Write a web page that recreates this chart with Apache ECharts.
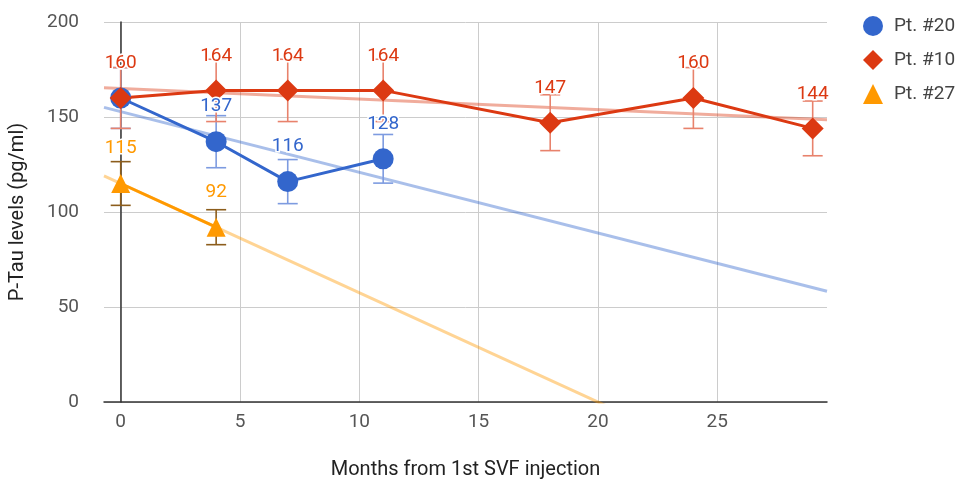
<!DOCTYPE html>
<html>
<head>
<meta charset="utf-8">
<script src="https://cdn.jsdelivr.net/npm/echarts@6/dist/echarts.min.js"></script>
<style>html,body{margin:0;padding:0;background:#fff}#c{width:973px;height:486px}</style>
</head>
<body>
<div id="c"></div>
<script>
// ---- data ----
const xTicks = [0, 5, 10, 15, 20, 25];
const yTicks = [0, 50, 100, 150, 200];

const months20 = [0, 4, 7, 11];
const pt20 = [160, 137, 116, 128];
const err20 = [16, 13.7, 11.6, 12.8];

const months10 = [0, 4, 7, 11, 18, 24, 29];
const pt10 = [160, 164, 164, 164, 147, 160, 144];
const err10 = [16, 16.4, 16.4, 16.4, 14.7, 16, 14.4];

const months27 = [0, 4];
const pt27 = [115, 92];
const err27 = [11.5, 9.2];

const seriesNames = ['Pt. #20', 'Pt. #10', 'Pt. #27'];

// ---- helpers ----
const X_MIN = -0.7, X_MAX = 29.6;
const FONT = 'Roboto';

function pairs(xs, ys) { return xs.map((x, i) => [x, ys[i]]); }
function errData(xs, ys, es) { return xs.map((x, i) => [x, ys[i] - es[i], ys[i] + es[i]]); }
function trend(xs, ys) {
  const n = xs.length;
  const mx = xs.reduce((a, b) => a + b, 0) / n;
  const my = ys.reduce((a, b) => a + b, 0) / n;
  let sxx = 0, sxy = 0;
  for (let i = 0; i < n; i++) { sxx += (xs[i] - mx) ** 2; sxy += (xs[i] - mx) * (ys[i] - my); }
  const b = sxy / sxx, a = my - b * mx;
  return [[X_MIN, a + b * X_MIN], [X_MAX, a + b * X_MAX]];
}
function errRender(color) {
  return function (params, api) {
    const x = api.value(0);
    const lo = api.coord([x, api.value(1)]);
    const hi = api.coord([x, api.value(2)]);
    const w = 10;
    const st = { stroke: color, lineWidth: 1.6 };
    return {
      type: 'group', children: [
        { type: 'line', shape: { x1: lo[0], y1: lo[1], x2: hi[0], y2: hi[1] }, style: st },
        { type: 'line', shape: { x1: lo[0] - w, y1: lo[1], x2: lo[0] + w, y2: lo[1] }, style: st },
        { type: 'line', shape: { x1: hi[0] - w, y1: hi[1], x2: hi[0] + w, y2: hi[1] }, style: st }
      ]
    };
  };
}

const C20 = '#3366cc', C10 = '#dc3912', C27 = '#ff9900';

function mainSeries(name, xs, ys, color, symbol, size, dist) {
  return {
    name: name, type: 'line', data: pairs(xs, ys), z: 5,
    symbol: symbol, symbolSize: size,
    itemStyle: { color: color },
    lineStyle: { color: color, width: 3 },
    label: {
      show: true, position: 'top', distance: dist,
      color: color, fontFamily: FONT, fontSize: 19,
      textBorderColor: '#fff', textBorderWidth: 3,
      formatter: p => String(p.value[1])
    }
  };
}
function trendSeries(name, xs, ys, color) {
  return {
    name: name, type: 'line', data: trend(xs, ys), z: 1, silent: true,
    symbol: 'none', lineStyle: { color: color, width: 3, opacity: 0.42 }
  };
}
function errSeries(name, xs, ys, es, color) {
  return {
    name: name, type: 'custom', z: 3, silent: true,
    renderItem: errRender(color), data: errData(xs, ys, es),
    encode: { x: 0, y: [1, 2] }
  };
}

const chart = echarts.init(document.getElementById('c'), null, { renderer: 'canvas' });
chart.setOption({
  backgroundColor: '#fff',
  animation: false,
  textStyle: { fontFamily: FONT },
  grid: { left: 104, right: 146, top: 22, bottom: 84, containLabel: false, outerBoundsMode: 'none' },
  legend: {
    orient: 'vertical', left: 858, top: 11,
    itemWidth: 20, itemHeight: 20, itemGap: 14,
    textStyle: { fontFamily: FONT, fontSize: 19, color: '#444', padding: [0, 0, 0, 6] },
    data: [
      { name: seriesNames[0], icon: 'circle' },
      { name: seriesNames[1], icon: 'diamond' },
      { name: seriesNames[2], icon: 'triangle' }
    ]
  },
  xAxis: {
    type: 'value', min: X_MIN, max: X_MAX,
    name: 'Months from 1st SVF injection', nameLocation: 'middle', nameGap: 58,
    nameTextStyle: { fontFamily: FONT, fontSize: 20, color: '#222' },
    axisLine: { show: true, onZero: true, lineStyle: { color: '#333', width: 1.5 } },
    axisTick: { show: false, customValues: xTicks },
    axisLabel: { customValues: xTicks, margin: 11, fontFamily: FONT, fontSize: 19, color: '#555' },
    splitLine: { show: true, lineStyle: { color: '#cccccc', width: 1 } }
  },
  yAxis: {
    type: 'value', min: yTicks[0], max: yTicks[yTicks.length - 1], interval: 50,
    name: 'P-Tau levels (pg/ml)', nameLocation: 'middle', nameGap: 76,
    nameTextStyle: { fontFamily: FONT, fontSize: 20, color: '#222' },
    axisLine: { show: true, onZero: true, lineStyle: { color: '#333', width: 1.5 } },
    axisTick: { show: false },
    axisLabel: { margin: 25, fontFamily: FONT, fontSize: 19, color: '#555' },
    splitLine: { show: true, lineStyle: { color: '#cccccc', width: 1 } }
  },
  series: [
    trendSeries('trend20', months20, pt20, C20),
    trendSeries('trend10', months10, pt10, C10),
    trendSeries('trend27', months27, pt27, C27),
    errSeries('err20', months20, pt20, err20, '#7d9be0'),
    errSeries('err10', months10, pt10, err10, '#e8826c'),
    errSeries('err27', months27, pt27, err27, '#8c5d1c'),
    mainSeries(seriesNames[0], months20, pt20, C20, 'circle', 21, 15),
    mainSeries(seriesNames[1], months10, pt10, C10, 'diamond', 22, 14),
    mainSeries(seriesNames[2], months27, pt27, C27, 'triangle', 19, 16)
  ]
});
</script>
</body>
</html>
